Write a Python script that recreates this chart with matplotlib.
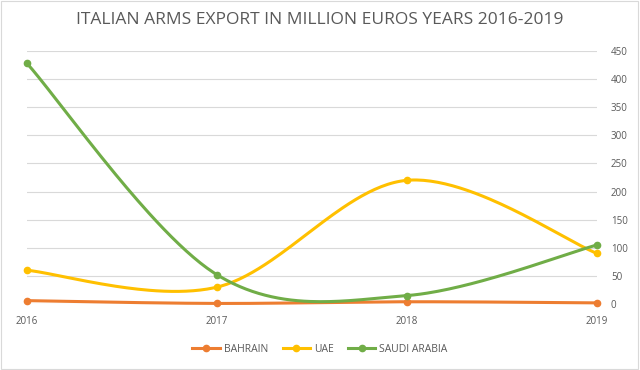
import matplotlib
matplotlib.use("Agg")
import matplotlib.pyplot as plt
import numpy as np
from matplotlib.lines import Line2D
from matplotlib.patches import Rectangle

years = ["2016", "2017", "2018", "2019"]
bahrain = [6, 1, 4, 2]
uae = [60, 30, 220, 90]
saudi = [428, 52, 15, 105]
y_ticks = [0, 50, 100, 150, 200, 250, 300, 350, 400, 450]

colors = {"BAHRAIN": "#ED7D31", "UAE": "#FFC000", "SAUDI ARABIA": "#70AD47"}

plt.rcParams['font.family'] = ['Open Sans', 'DejaVu Sans']


def smooth(xs, ys, n=60):
    xs = np.asarray(xs, float)
    ys = np.asarray(ys, float)
    px, py = [], []
    m = len(xs)
    for i in range(m - 1):
        p0 = np.array([xs[i], ys[i]])
        p3 = np.array([xs[i + 1], ys[i + 1]])
        prev = np.array([xs[i - 1], ys[i - 1]]) if i > 0 else p0
        nxt = np.array([xs[i + 2], ys[i + 2]]) if i + 2 < m else p3
        c1 = p0 + (p3 - prev) / 6.0
        c2 = p3 - (nxt - p0) / 6.0
        t = np.linspace(0, 1, n)[:, None]
        pts = ((1 - t) ** 3) * p0 + 3 * ((1 - t) ** 2) * t * c1 + 3 * (1 - t) * t ** 2 * c2 + t ** 3 * p3
        px.extend(pts[:, 0])
        py.extend(pts[:, 1])
    return np.array(px), np.array(py)


fig = plt.figure(figsize=(6.4, 3.7), dpi=100)
fig.patches.append(Rectangle((0.002, 0.003), 0.995, 0.994, transform=fig.transFigure,
                             fill=False, edgecolor="#d9d9d9", linewidth=0.8))

ax = fig.add_axes([27 / 640, 1 - 304 / 370, 570 / 640, 253 / 370])
x = np.arange(len(years))

for name, vals in [("BAHRAIN", bahrain), ("UAE", uae), ("SAUDI ARABIA", saudi)]:
    sx, sy = smooth(x, vals)
    ax.plot(sx, sy, color=colors[name], linewidth=2.2, solid_capstyle="round", clip_on=False, zorder=3)
    ax.plot(x, vals, linestyle="none", marker="o", markersize=4.5, color=colors[name], clip_on=False, zorder=4)

ax.set_xlim(0, 3)
ax.set_ylim(0, 450)
ax.set_yticks(y_ticks)
ax.yaxis.tick_right()
ax.set_xticks(x)
ax.set_xticklabels(years)
ax.tick_params(axis="both", length=0, labelsize=7, colors="#595959")
ax.tick_params(axis="y", pad=10)
ax.tick_params(axis="x", pad=9)
for s in ax.spines.values():
    s.set_visible(False)
ax.grid(axis="y", color="#d9d9d9", linewidth=0.8)
ax.set_axisbelow(True)

fig.text(0.5, 1 - 20 / 370, "ITALIAN ARMS EXPORT IN MILLION EUROS YEARS 2016-2019",
         ha="center", va="center", fontsize=12.5, color="#595959")

handles = [Line2D([0], [0], color=colors[n], linewidth=2.2, marker="o", markersize=4.5)
           for n in ["BAHRAIN", "UAE", "SAUDI ARABIA"]]
fig.legend(handles, ["BAHRAIN", "UAE", "SAUDI ARABIA"], loc="center", bbox_to_anchor=(0.5, 1 - 349 / 370),
           ncol=3, frameon=False, fontsize=7.5, labelcolor="#595959", handlelength=2.6,
           handletextpad=0.4, columnspacing=1.4)

fig.savefig("out.png", dpi=100)
